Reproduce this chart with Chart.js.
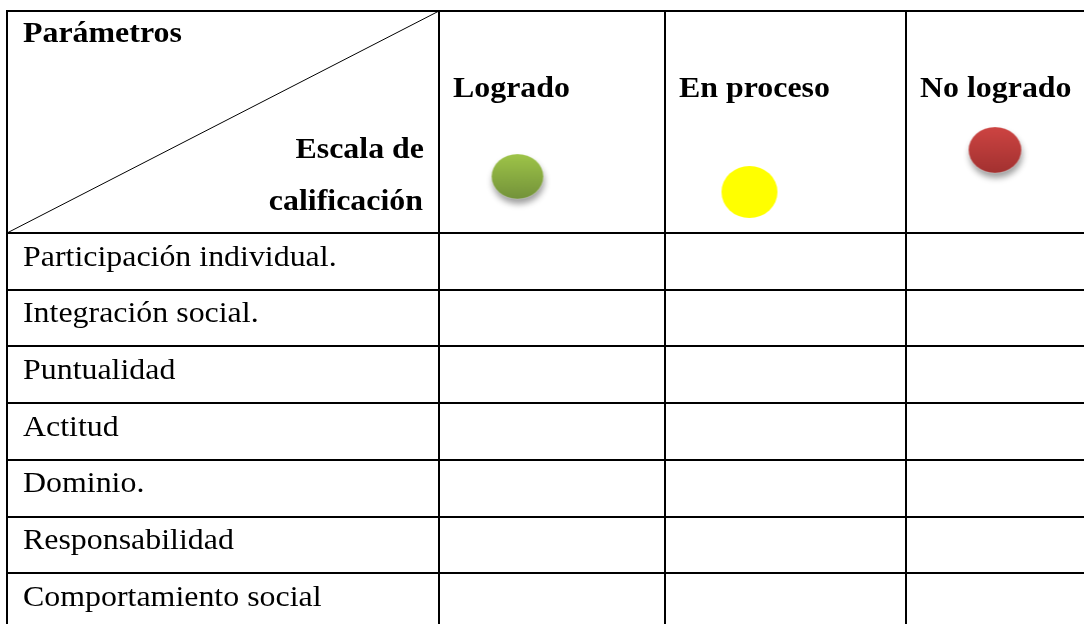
<!DOCTYPE html>
<html lang="es">
<head>
<meta charset="utf-8">
<title>Escala de calificación</title>
<script src="https://cdn.jsdelivr.net/npm/chart.js@4"></script>
<style>
  html, body { margin: 0; padding: 0; background: #fff; }
  #tabla { display: block; }
</style>
</head>
<body>
<canvas id="tabla" width="1084" height="624"></canvas>
<script>
// Datos de la tabla
const parametros = ['Participación individual.', 'Integración social.', 'Puntualidad', 'Actitud', 'Dominio.', 'Responsabilidad', 'Comportamiento social'];
const escalas = ['Logrado', 'En proceso', 'No logrado'];
const esquinaArriba = 'Parámetros';
const esquinaAbajo = ['Escala de', 'calificación'];
const coloresEscala = [['#9ec448', '#73923a'], ['#ffff00', '#ffff00'], ['#cd4442', '#a23130']];

// Geometría de la tabla (en unidades de las escalas, 1 unidad = 1px)
const bordesColumna = [0, 432, 658, 899, 1140];
const altoCabecera = 222;
const altoFila = 56.7;
const marcaX = [78.5, 84.5, 89];   // desde el borde izquierdo de cada columna
const marcaY = [165.5, 181, 139];
const tamMarca = [[52, 45], [56, 52], [53, 46]];
const sombraMarca = [true, false, true];

const FUENTE = '"Liberation Serif", "Times New Roman", Times, serif';

// Dibuja una marca elíptica con degradado y sombra
function hacerMarca(i) {
    const [w, h] = tamMarca[i];
    const c = document.createElement('canvas');
    c.width = w + 30;
    c.height = h + 30;
    const g = c.getContext('2d');
    const cx = c.width / 2, cy = c.height / 2;
    if (sombraMarca[i]) {
        g.shadowColor = 'rgba(0,0,0,0.38)';
        g.shadowBlur = 6;
        g.shadowOffsetX = 1;
        g.shadowOffsetY = 5;
    }
    const grad = g.createLinearGradient(0, cy - h / 2, 0, cy + h / 2);
    grad.addColorStop(0, coloresEscala[i][0]);
    grad.addColorStop(1, coloresEscala[i][1]);
    g.beginPath();
    g.ellipse(cx, cy, w / 2, h / 2, 0, 0, Math.PI * 2);
    g.fillStyle = grad;
    g.fill();
    if (sombraMarca[i]) {
        g.shadowColor = 'transparent';
        g.lineWidth = 1.2;
        g.strokeStyle = 'rgba(255,255,255,0.22)';
        g.stroke();
    }
    return c;
}

function texto(ctx, s, px, py, negrita, align) {
    ctx.save();
    ctx.translate(px, py);
    ctx.scale(1.1, 1);
    ctx.font = (negrita ? 'bold ' : '') + '29px ' + FUENTE;
    ctx.textAlign = align;
    ctx.textBaseline = 'alphabetic';
    ctx.fillStyle = '#000';
    ctx.fillText(s, 0, 0);
    ctx.restore();
}

// Plugin que dibuja las líneas y los textos de la tabla con las escalas del gráfico
const tablaPlugin = {
    id: 'tabla',
    beforeDatasetsDraw(chart) {
        const ctx = chart.ctx;
        const x = chart.scales.x, y = chart.scales.y;

        const filas = [0];
        for (let i = 0; i <= parametros.length; i++) filas.push(altoCabecera + i * altoFila);

        ctx.save();
        ctx.strokeStyle = '#000';
        ctx.lineWidth = 2;
        const x0 = x.getPixelForValue(0), y0 = y.getPixelForValue(0);
        filas.forEach(v => {
            const py = Math.round(y.getPixelForValue(v));
            ctx.beginPath();
            ctx.moveTo(x0 - 1, py);
            ctx.lineTo(chart.width, py);
            ctx.stroke();
        });
        bordesColumna.forEach(v => {
            const px = Math.round(x.getPixelForValue(v));
            ctx.beginPath();
            ctx.moveTo(px, y0 - 1);
            ctx.lineTo(px, chart.height);
            ctx.stroke();
        });

        // diagonal de la esquina
        ctx.lineWidth = 1;
        ctx.beginPath();
        ctx.moveTo(x.getPixelForValue(bordesColumna[1]), y.getPixelForValue(0));
        ctx.lineTo(x.getPixelForValue(0), y.getPixelForValue(altoCabecera));
        ctx.stroke();
        ctx.restore();

        // textos de la cabecera
        texto(ctx, esquinaArriba, x.getPixelForValue(16), y.getPixelForValue(31), true, 'left');
        texto(ctx, esquinaAbajo[0], x.getPixelForValue(417), y.getPixelForValue(147), true, 'right');
        texto(ctx, esquinaAbajo[1], x.getPixelForValue(416), y.getPixelForValue(199), true, 'right');
        escalas.forEach((e, i) => {
            texto(ctx, e, x.getPixelForValue(bordesColumna[i + 1] + 14), y.getPixelForValue(86), true, 'left');
        });

        // parámetros
        parametros.forEach((p, i) => {
            texto(ctx, p, x.getPixelForValue(16), y.getPixelForValue(altoCabecera + i * altoFila + 32.5), false, 'left');
        });
    }
};

function dibujar() {
    new Chart(document.getElementById('tabla'), {
        type: 'scatter',
        data: {
            datasets: [{
                data: escalas.map((e, i) => ({ x: bordesColumna[i + 1] + marcaX[i], y: marcaY[i] })),
                pointStyle: escalas.map((e, i) => hacerMarca(i)),
                pointRadius: 25,
                clip: false
            }]
        },
        options: {
            responsive: false,
            animation: false,
            devicePixelRatio: 1,
            layout: { autoPadding: false, padding: { left: 7, top: 11, right: 0, bottom: 0 } },
            plugins: { legend: { display: false }, tooltip: { enabled: false } },
            scales: {
                x: { type: 'linear', min: 0, max: 1077, display: false },
                y: { type: 'linear', min: 0, max: 613, reverse: true, display: false }
            }
        },
        plugins: [tablaPlugin]
    });
}

Promise.all([
    document.fonts.load('29px ' + FUENTE),
    document.fonts.load('bold 29px ' + FUENTE)
]).then(dibujar, dibujar);
</script>
</body>
</html>
